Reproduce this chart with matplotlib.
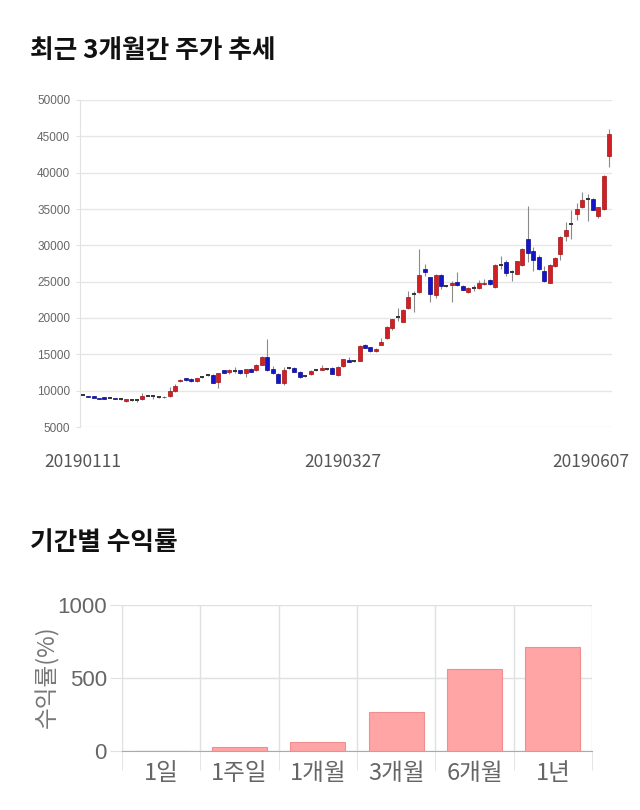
import numpy as np
import matplotlib
matplotlib.use("Agg")
import matplotlib.pyplot as plt
from matplotlib import transforms

plt.rcParams["font.family"] = ["Noto Sans CJK KR", "DejaVu Sans"]

# daily candles, 20190111 ~ 20190607
opens = [9400, 9200, 9200, 8950, 9100, 9000, 9000, 8800, 8600, 8700,
         8700, 8800, 9300, 9200, 9100, 9100, 9200, 9900, 11300, 11700,
         11600, 11300, 11900, 12100, 12200, 11200, 12800, 12600, 12700, 12800,
         12400, 13000, 12800, 13600, 14700, 13000, 12300, 11100, 13100, 13100,
         12600, 12000, 12300, 12800, 12850, 12950, 13100, 12100, 13350, 14250,
         14050, 14150, 16350, 15950, 15500, 16350, 17250, 18600, 20100, 19500,
         21350, 23300, 23550, 26750, 25600, 23100, 25950, 24400, 24500, 25000,
         24400, 23600, 24100, 24100, 24700, 25200, 24250, 27350, 27700, 26300,
         26100, 27300, 30900, 29200, 28400, 26500, 24850, 27150, 28750, 31350,
         32900, 34350, 35250, 36400, 36400, 34000, 35000, 42300]
highs = [9450, 9300, 9250, 9050, 9150, 9100, 9050, 8850, 8850, 8750,
         8800, 9700, 9400, 9300, 9200, 9200, 10500, 10900, 11600, 11800,
         11700, 11800, 12000, 12200, 12300, 12500, 12900, 13000, 13300, 12850,
         13050, 13100, 13700, 14750, 17100, 13400, 12400, 13300, 13300, 13250,
         12650, 12100, 12900, 13000, 13600, 13100, 13200, 13400, 14400, 14600,
         14150, 16300, 16450, 16000, 15900, 17250, 18900, 19900, 21350, 21200,
         23700, 23700, 29500, 27450, 25700, 26000, 26000, 24600, 25100, 26300,
         24500, 24200, 24500, 25200, 25400, 25400, 27500, 28600, 28000, 26600,
         27900, 29600, 35400, 29750, 28700, 27100, 27400, 28400, 31300, 33200,
         34800, 35800, 37400, 37100, 36500, 35300, 39700, 46000]
lows = [9350, 9100, 8950, 8850, 8850, 8950, 8850, 8750, 8450, 8600,
        8500, 8750, 9200, 8900, 9050, 9050, 9150, 9850, 11200, 11350,
        11250, 11250, 11800, 12000, 11000, 10400, 12450, 12350, 12500, 12300,
        11900, 12550, 12700, 13500, 12700, 12300, 11050, 10800, 13000, 12550,
        11800, 11900, 12200, 12700, 12800, 12850, 12250, 12000, 13200, 13900,
        13900, 14050, 15850, 15300, 15300, 16250, 17100, 18400, 19600, 19400,
        21300, 20800, 23400, 25750, 22250, 22700, 24000, 24200, 22200, 24400,
        23800, 23500, 23700, 24000, 24500, 24600, 24100, 26750, 25800, 25100,
        26000, 27200, 27700, 26500, 26600, 24900, 24800, 27000, 28000, 30650,
        30900, 33500, 35100, 33400, 34800, 33700, 34800, 40800]
closes = [9400, 9150, 9000, 8900, 8900, 9000, 8900, 8800, 8800, 8700,
          8700, 9200, 9300, 9200, 9100, 9150, 9900, 10700, 11500, 11400,
          11300, 11700, 11900, 12100, 11100, 12400, 12500, 12900, 12700, 12400,
          13000, 12600, 13600, 14700, 12900, 12400, 11100, 12900, 13100, 12600,
          11900, 12000, 12700, 12800, 13100, 12950, 12300, 13200, 14350, 13950,
          14050, 16200, 15900, 15500, 15800, 16750, 18800, 19850, 20100, 21150,
          22900, 23300, 25950, 26300, 23300, 25950, 24400, 24400, 24800, 24500,
          23900, 24100, 24100, 24800, 24800, 24700, 27350, 27350, 26200, 26300,
          27800, 29500, 28900, 28050, 26700, 25100, 27300, 28300, 31100, 32150,
          32900, 35000, 36250, 36400, 34900, 35250, 39500, 45350]
date_labels = ["20190111", "20190327", "20190607"]

# period returns (%)
periods = ["1일", "1주일", "1개월", "3개월", "6개월", "1년"]
returns = [0, 27, 64, 265, 559, 715]

opens = np.array(opens)
highs = np.array(highs)
lows = np.array(lows)
closes = np.array(closes)
n = len(opens)
x = np.arange(n)

fig = plt.figure(figsize=(6.4, 8.1), dpi=100)
fig.text(30 / 640, 1 - 50 / 810, "최근 3개월간 주가 추세", fontsize=18.5,
         fontweight="bold", va="center", color="#111111")
fig.text(30 / 640, 1 - 543 / 810, "기간별 수익률", fontsize=18.5,
         fontweight="bold", va="center", color="#111111")

# ---- candlestick chart ----
ax = fig.add_axes([80 / 640, 1 - 427 / 810, 532 / 640, 327 / 810])
ax.vlines(x, lows, highs, color="#8a8a8a", lw=0.8, zorder=2)

up = closes > opens
down = closes < opens
flat = closes == opens
ax.bar(x[up], (closes - opens)[up], bottom=opens[up], width=0.72,
       color="#d21f24", edgecolor="#9e1218", lw=0.5, zorder=3)
ax.bar(x[down], (opens - closes)[down], bottom=closes[down], width=0.72,
       color="#1414c8", edgecolor="#0a0a8a", lw=0.5, zorder=3)
ax.hlines(closes[flat], x[flat] - 0.36, x[flat] + 0.36, color="#333333",
          lw=1.4, zorder=3)

ax.set_xlim(-0.5, n - 0.5)
ax.set_ylim(5000, 50000)
ax.set_yticks(range(5000, 50001, 5000))
ax.set_yticklabels([str(v) for v in range(5000, 50001, 5000)],
                   fontsize=8.5, color="#666666", family="Liberation Sans")
ax.tick_params(axis="y", length=3, color="#e2e2e2", pad=4)
ax.grid(axis="y", color="#e6e6e6", lw=1)
ax.set_axisbelow(True)
for s in ["top", "right", "bottom"]:
    ax.spines[s].set_visible(False)
ax.spines["left"].set_color("#e2e2e2")

ax.set_xticks([0, 48, n - 1])
ax.set_xticklabels(date_labels, fontsize=12.5, color="#555555")
ax.tick_params(axis="x", length=0, pad=19)
last = ax.get_xticklabels()[-1]
last.set_transform(last.get_transform() +
                   transforms.ScaledTranslation(-0.18, 0, fig.dpi_scale_trans))

# ---- returns bar chart ----
ax2 = fig.add_axes([122 / 640, 1 - 751 / 810, 470 / 640, 146 / 810])
pos = np.arange(len(periods))
ax2.bar(pos, returns, width=0.7, color="#ffa5a5", edgecolor="#f08e8e", lw=0.8,
        zorder=3)
ax2.set_xlim(-0.5, len(periods) - 0.5)
ax2.set_ylim(0, 1000)
ax2.set_yticks([0, 500, 1000])
ax2.set_yticklabels(["0", "500", "1000"], fontsize=16, color="#666666",
                    family="Liberation Sans")
ax2.tick_params(axis="y", length=9, color="#e0e0e0", pad=2)
ax2.grid(axis="y", color="#e0e0e0", lw=1)
ax2.set_xticks(pos)
ax2.set_xticklabels(periods, fontsize=17, color="#666666")
ax2.tick_params(axis="x", which="major", length=0, pad=8)
ax2.set_xticks(np.arange(len(periods) + 1) - 0.5, minor=True)
ax2.tick_params(axis="x", which="minor", length=14, color="#e0e0e0")
ax2.grid(axis="x", which="minor", color="#e0e0e0", lw=1)
ax2.set_axisbelow(True)
for s in ["top", "right"]:
    ax2.spines[s].set_visible(False)
ax2.spines["left"].set_color("#e0e0e0")
ax2.spines["bottom"].set_color("#aaaaaa")
fig.text(47 / 640, 1 - 677 / 810, "수익률(%)", rotation=90, fontsize=17,
         color="#777777", ha="center", va="center")

fig.savefig("out.png", dpi=100)
